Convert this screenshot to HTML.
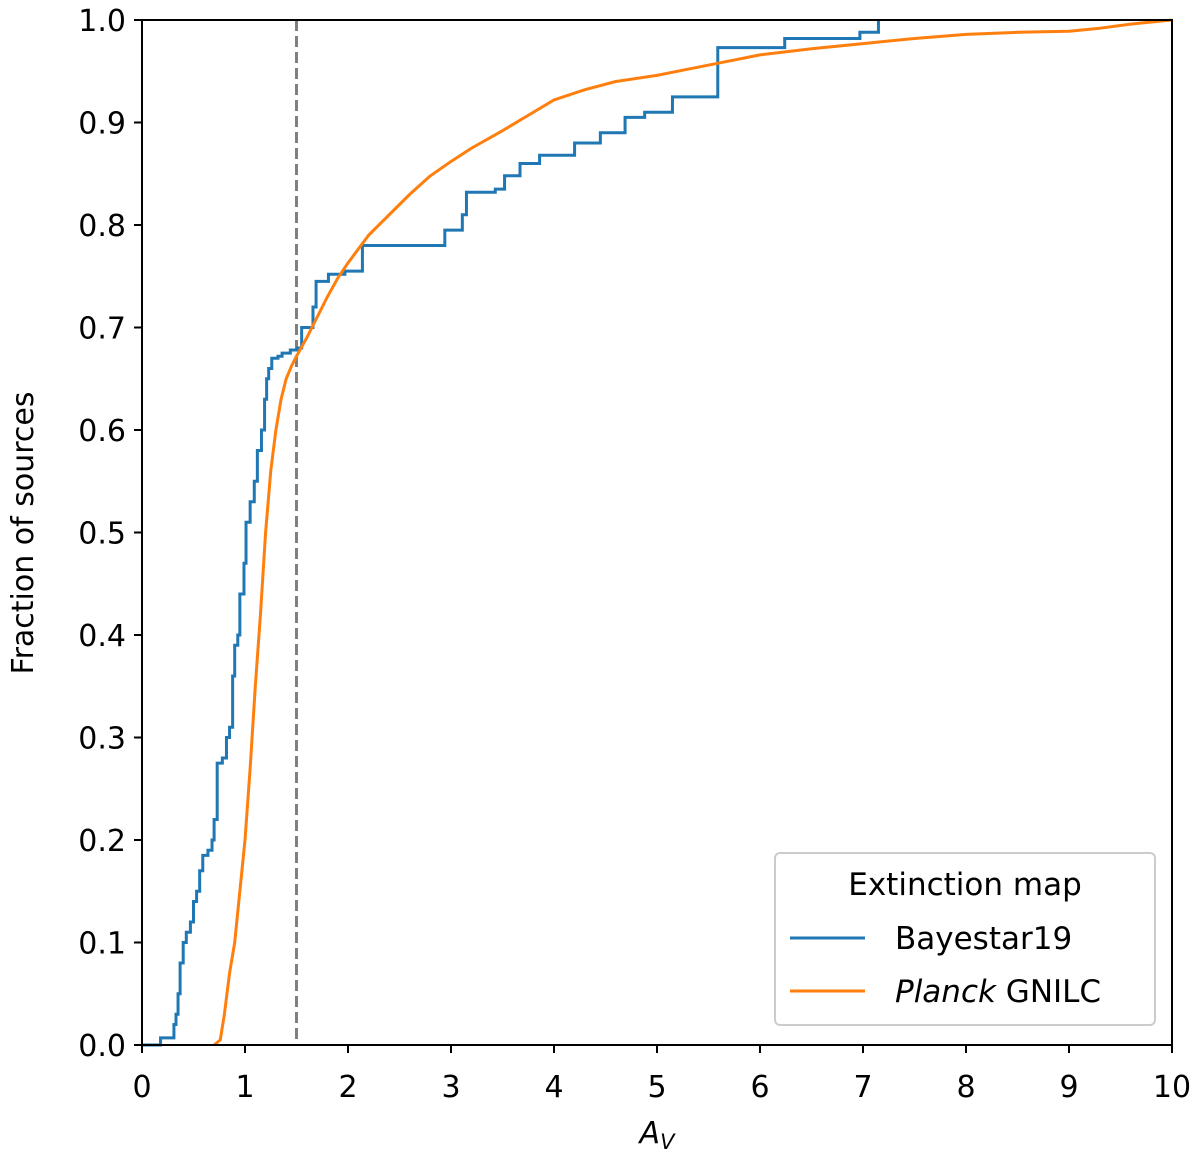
<!DOCTYPE html>
<html><head><meta charset="utf-8"><style>
body{margin:0;background:#fff;}
svg text{font-family:"DejaVu Sans","Liberation Sans",sans-serif;fill:#000;}
</style></head><body>
<svg id="chart" width="1200" height="1160" xmlns="http://www.w3.org/2000/svg">
<g id="plot"></g>
</svg>
<script>
const xTicks=[0,1,2,3,4,5,6,7,8,9,10];
const yTicks=[0.0,0.1,0.2,0.3,0.4,0.5,0.6,0.7,0.8,0.9,1.0];
const bayesX=[0,0.18,0.31,0.33,0.35,0.37,0.40,0.43,0.47,0.50,0.53,0.56,0.59,0.64,0.68,0.70,0.73,0.78,0.82,0.85,0.88,0.90,0.93,0.95,0.99,1.01,1.05,1.09,1.12,1.16,1.19,1.21,1.23,1.26,1.32,1.36,1.44,1.51,1.55,1.66,1.69,1.81,1.97,2.14,2.94,3.11,3.15,3.43,3.52,3.67,3.86,4.20,4.45,4.69,4.88,5.15,5.59,6.24,6.97,7.15];
const bayesY=[0,0.007,0.02,0.03,0.05,0.08,0.10,0.11,0.12,0.14,0.15,0.17,0.185,0.19,0.2,0.22,0.275,0.28,0.3,0.31,0.36,0.39,0.4,0.44,0.47,0.51,0.53,0.55,0.58,0.60,0.63,0.65,0.66,0.67,0.672,0.675,0.678,0.68,0.70,0.72,0.745,0.752,0.755,0.78,0.795,0.81,0.832,0.835,0.848,0.86,0.868,0.88,0.89,0.905,0.91,0.925,0.973,0.982,0.988,1.0];
const planckX=[0.7,0.76,0.8,0.85,0.9,0.95,1.0,1.05,1.1,1.15,1.2,1.25,1.3,1.35,1.4,1.45,1.5,1.6,1.7,1.8,1.9,2.0,2.2,2.4,2.6,2.8,3.0,3.2,3.5,3.8,4.0,4.3,4.6,5.0,5.3,5.6,6.0,6.5,7.0,7.5,8.0,8.5,9.0,9.3,9.6,10];
const planckY=[0,0.005,0.03,0.07,0.1,0.15,0.2,0.27,0.35,0.42,0.5,0.56,0.6,0.63,0.65,0.662,0.672,0.69,0.71,0.73,0.748,0.763,0.79,0.81,0.83,0.848,0.862,0.875,0.892,0.91,0.922,0.932,0.94,0.946,0.952,0.958,0.966,0.972,0.977,0.982,0.986,0.988,0.989,0.992,0.996,1.0];
const X0=142,X1=1172,Y0=1045,Y1=20;
const sx=v=>X0+(v-0)/10*(X1-X0);
const sy=v=>Y0-(v-0)/1*(Y0-Y1);
const NS='http://www.w3.org/2000/svg';
const g=document.getElementById('plot');
function mk(t,a,p){const e=document.createElementNS(NS,t);for(const k in a)e.setAttribute(k,a[k]);(p||g).appendChild(e);return e;}
let d=mk('line',{x1:sx(1.5),x2:sx(1.5),y1:Y1,y2:Y0,stroke:'#7f7f7f','stroke-width':3,'stroke-dasharray':'11,5'});


let p='M'+sx(bayesX[0])+','+sy(bayesY[0]);
for(let i=1;i<bayesX.length;i++){p+=' H'+sx(bayesX[i])+' V'+sy(bayesY[i]);}
let b=mk('path',{d:p,fill:'none',stroke:'#1f77b4','stroke-width':3});


let q='M'+planckX.map((x,i)=>sx(x)+','+sy(planckY[i])).join(' L');
let o=mk('path',{d:q,fill:'none',stroke:'#ff7f0e','stroke-width':3,'stroke-linejoin':'round'});


let f=mk('rect',{x:X0,y:Y1,width:X1-X0,height:Y0-Y1,fill:'none',stroke:'#000','stroke-width':2});


xTicks.forEach(v=>{
 mk('line',{x1:sx(v),x2:sx(v),y1:Y0,y2:Y0+8,stroke:'#000','stroke-width':2});
 let t=mk('text',{x:sx(v),y:Y0+52,'text-anchor':'middle','font-size':30});t.textContent=v;
 
 
});
yTicks.forEach(v=>{
 mk('line',{x1:X0-8,x2:X0,y1:sy(v),y2:sy(v),stroke:'#000','stroke-width':2});
 let t=mk('text',{x:X0-16,y:sy(v)+11,'text-anchor':'end','font-size':30});t.textContent=v.toFixed(1);
 
 
});
let xt=mk('text',{x:657,y:1143,'text-anchor':'middle','font-size':30,'font-style':'italic'});
xt.innerHTML='A<tspan font-size="21" dy="6">V</tspan>';


let yt=mk('text',{x:0,y:0,'text-anchor':'middle','font-size':30,transform:'translate(33,533) rotate(-90)'});
yt.textContent='Fraction of sources';


let lg=mk('g',{});


mk('rect',{x:775,y:853,width:380,height:172,rx:5,fill:'#fff',stroke:'#ccc','stroke-width':2},lg);
let lt=mk('text',{x:965,y:895,'text-anchor':'middle','font-size':31},lg);lt.textContent='Extinction map';
let e1=mk('g',{},lg);


mk('line',{x1:790,x2:865,y1:938,y2:938,stroke:'#1f77b4','stroke-width':3},e1);
let t1=mk('text',{x:895,y:949,'font-size':31},e1);t1.textContent='Bayestar19';
let e2=mk('g',{},lg);


mk('line',{x1:790,x2:865,y1:991,y2:991,stroke:'#ff7f0e','stroke-width':3},e2);
let t2=mk('text',{x:895,y:1002,'font-size':31},e2);t2.innerHTML='<tspan font-style="italic">Planck</tspan> GNILC';
</script>
</body></html>
